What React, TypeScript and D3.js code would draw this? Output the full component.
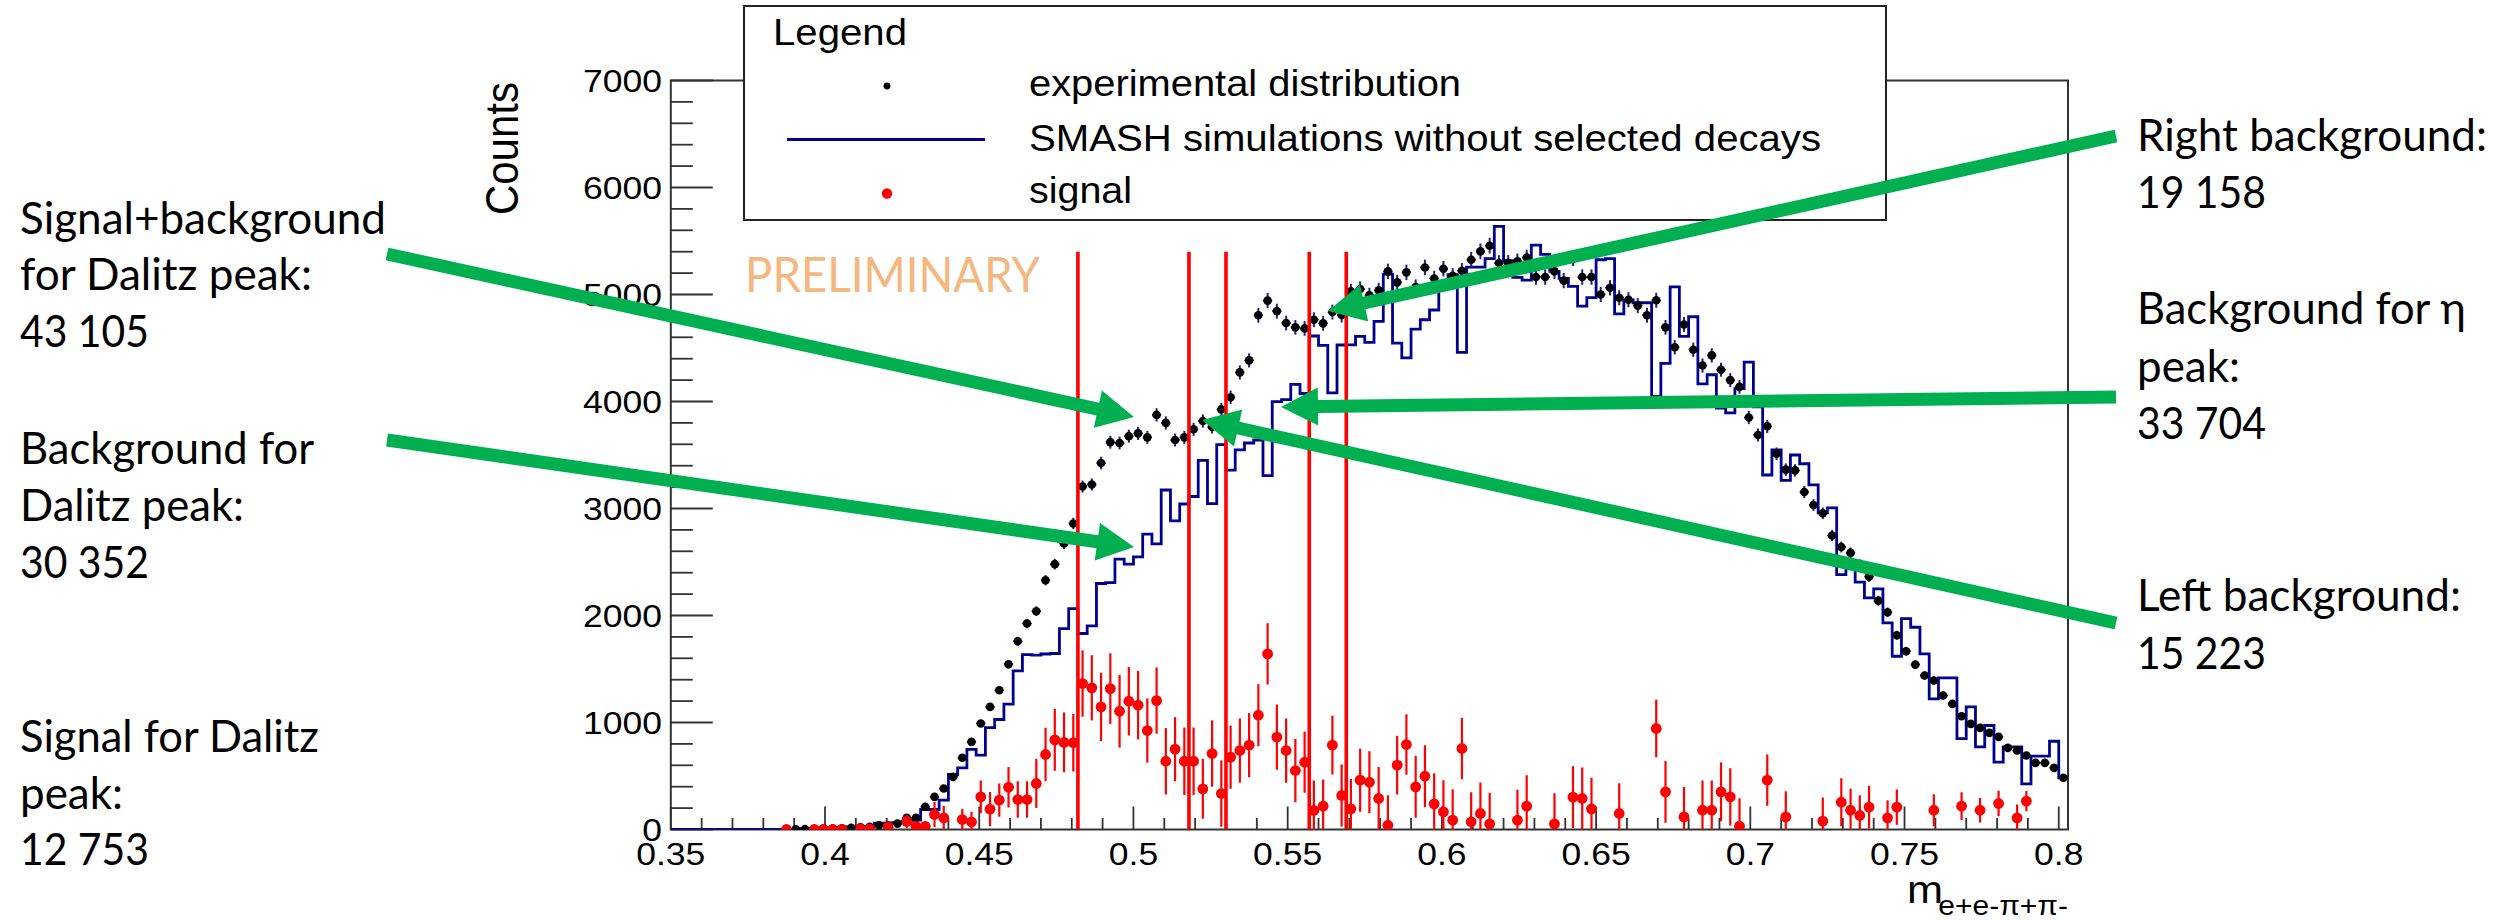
import React, { useEffect } from 'react';
import * as d3 from 'd3';

// histogram binning of the invariant-mass spectra
const BIN_LOW = 0.35;
const BIN_WIDTH = 0.003;

// experimental distribution, one value per bin (0.35 ... 0.803)
const experimentalCounts = [
  0, 0, 0, 0, 0, 0, 0, 0, 0, 0,
  0, 0, 0, 3, 5, 6, 8, 10, 12, 16,
  20, 25, 40, 40, 55, 109, 109, 212, 305, 383,
  492, 670, 819, 991, 1146, 1302, 1545, 1760, 1925, 2040,
  2330, 2480, 2673, 2860, 3205, 3225, 3425, 3620, 3612, 3676,
  3702, 3665, 3875, 3800, 3640, 3665, 3740, 3818, 3762, 3926,
  4039, 4272, 4384, 4806, 4943, 4845, 4733, 4693, 4683, 4764,
  4730, 4836, 4808, 5029, 5051, 4992, 5039, 5216, 5113, 5207,
  5070, 5253, 5150, 5241, 5175, 5222, 5325, 5403, 5456, 5294,
  5297, 5310, 5345, 5163, 5163, 5216, 5130, 5340, 5163, 5163,
  5000, 5063, 4970, 4951, 4896, 4806, 4946, 4693, 4507, 4720,
  4484, 4336, 4431, 4297, 4200, 4137, 3850, 3687, 3768, 3511,
  3363, 3356, 3154, 3033, 2955, 2748, 2640, 2585, 2475, 2363,
  2139, 2030, 1815, 1666, 1541, 1439, 1392, 1252, 1174, 1059,
  987, 950, 903, 866, 763, 738, 691, 623, 623, 576,
  483,
];

// SMASH simulation without selected decays, same binning
const smashCounts = [
  0, 0, 0, 0, 0, 0, 0, 0, 0, 0,
  0, 0, 0, 0, 10, 10, 15, 15, 20, 25,
  25, 30, 60, 60, 65, 78, 87, 187, 187, 274,
  514, 576, 748, 695, 953, 1028, 1171, 1483, 1635, 1630,
  1640, 1645, 1878, 2065, 1832, 1903, 2299, 2308, 2526, 2480,
  2548, 2760, 2670, 3173, 2884, 3042, 3112, 3450, 3046, 3597,
  3358, 3547, 3612, 3640, 3307, 3999, 4017, 4160, 4075, 4612,
  4525, 4080, 4528, 4530, 4609, 4553, 4749, 5191, 4546, 4408,
  4677, 4764, 4855, 5110, 5185, 4459, 5255, 5255, 5335, 5636,
  5317, 5160, 5135, 5462, 5375, 5216, 5150, 5076, 4892, 4970,
  5325, 5336, 4818, 4950, 4923, 4923, 4048, 4356, 5072, 4609,
  4792, 4165, 4250, 3939, 3893, 4120, 4368, 3950, 3313, 3547,
  3262, 3500, 3418, 3220, 2960, 3005, 2382, 2444, 2311, 2164,
  2248, 1931, 1619, 1971, 1890, 1641, 1221, 1417, 1417, 850,
  1146, 772, 972, 629, 772, 772, 427, 685, 685, 825,
  483,
];

// signal points (bin centre, counts, error)
const signalMass = [
  0.3875, 0.3965, 0.3995, 0.4025, 0.4055, 0.4115, 0.4145, 0.4205, 0.4265, 0.4295,
  0.4325, 0.4355, 0.4385, 0.4445, 0.4475, 0.4505, 0.4535, 0.4565, 0.4595, 0.4625,
  0.4655, 0.4685, 0.4715, 0.4745, 0.4775, 0.4805, 0.4835, 0.4865, 0.4895, 0.4925,
  0.4955, 0.4985, 0.5015, 0.5045, 0.5075, 0.5105, 0.5135, 0.5165, 0.5195, 0.5225,
  0.5255, 0.5285, 0.5315, 0.5345, 0.5375, 0.5405, 0.5435, 0.5465, 0.5495, 0.5525,
  0.5555, 0.5585, 0.5615, 0.5645, 0.5675, 0.5705, 0.5735, 0.5765, 0.5795, 0.5825,
  0.5855, 0.5885, 0.5915, 0.5945, 0.5975, 0.6005, 0.6035, 0.6065, 0.6095, 0.6125,
  0.6155, 0.6245, 0.6275, 0.6365, 0.6425, 0.6455, 0.6485, 0.6575, 0.6695, 0.6725,
  0.6785, 0.6845, 0.6875, 0.6905, 0.6935, 0.6965, 0.7055, 0.7115, 0.7235, 0.7295,
  0.7325, 0.7355, 0.7385, 0.7445, 0.7475, 0.7595, 0.7685, 0.7745, 0.7805, 0.7865,
  0.7895,
];
const signalCounts = [
  0, 0, 0, 0, 0, 5, 5, 25, 75, 30,
  30, 140, 109, 93, 70, 305, 190, 274, 395, 280,
  280, 430, 701, 838, 814, 811, 1364, 1324, 1146, 1317,
  1105, 1199, 1162, 925, 1205, 638, 750, 638, 638, 380,
  710, 336, 676, 738, 788, 1068, 1641, 863, 738, 551,
  629, 178, 218, 788, 318, 193, 461, 442, 290, 40,
  601, 794, 399, 498, 240, 165, 87, 757, 72, 150,
  53, 87, 218, 53, 302, 290, 193, 150, 944, 352,
  118, 180, 180, 352, 305, 31, 461, 118, 78, 255,
  180, 131, 209, 109, 209, 180, 218, 180, 243, 109,
  265,
];
const signalErrors = [
  10, 10, 10, 10, 12, 20, 20, 30, 60, 50,
  50, 117, 110, 100, 95, 153, 160, 155, 190, 170,
  170, 230, 250, 290, 280, 270, 310, 305, 320, 330,
  340, 320, 320, 300, 310, 310, 300, 315, 315, 280,
  310, 310, 295, 300, 300, 290, 287, 305, 300, 296,
  285, 280, 250, 275, 290, 280, 295, 290, 295, 280,
  275, 283, 290, 290, 285, 295, 290, 287, 275, 290,
  290, 285, 290, 285, 288, 290, 290, 283, 270, 288,
  280, 277, 277, 275, 268, 260, 240, 240, 220, 225,
  200, 190, 200, 165, 165, 150, 130, 115, 120, 125,
  95,
];

// mass window borders
const cutPositions = [0.482, 0.518, 0.53, 0.557, 0.569];
const CUT_TOP = 5400;

const xTickValues = [0.35, 0.4, 0.45, 0.5, 0.55, 0.6, 0.65, 0.7, 0.75, 0.8];
const xTickLabels = ['0.35', '0.4', '0.45', '0.5', '0.55', '0.6', '0.65', '0.7', '0.75', '0.8'];
const yTickValues = [0, 1000, 2000, 3000, 4000, 5000, 6000, 7000];

const legendLabels = [
  'experimental distribution',
  'SMASH simulations without selected decays',
  'signal',
];

const leftNotes = [
  ['Signal+background', 'for Dalitz peak:', '43 105'],
  ['Background for', 'Dalitz peak:', '30 352'],
  ['Signal for Dalitz', 'peak:', '12 753'],
];
const rightNotes = [
  ['Right background:', '19 158'],
  ['Background for η', 'peak:', '33 704'],
  ['Left background:', '15 223'],
];

// page layout (pixels)
const W = 2516;
const H = 920;
const PLOT = { left: 670.8, right: 2068, top: 80.5, bottom: 829.5 };
const SX = 1.11; // the ROOT picture is slightly stretched sideways
const ROOT_FONT = "'Liberation Sans', Arial, Helvetica, sans-serif";
const SLIDE_FONT = "Lato, Carlito, 'Open Sans', sans-serif";
const GREEN = '#00b050';

const leftLayout = [
  { y: 233.5, widths: [366, 292, 129] },
  { y: 464.3, widths: [294, 224, 129] },
  { y: 751.7, widths: [299, 103, 129] },
];
const rightLayout = [
  { y: 150.5, widths: [350, 129] },
  { y: 324, widths: [329, 103, 129] },
  { y: 611, widths: [324, 129] },
];

const arrows = [
  { from: [387, 254], to: [1134, 417] },
  { from: [387, 440], to: [1134, 547] },
  { from: [2116, 136], to: [1328, 311] },
  { from: [2116, 397], to: [1281, 407] },
  { from: [2116, 623], to: [1202, 420] },
];

function arrowPolygon(from: number[], to: number[], shaft = 13, headLen = 37, headHalf = 19) {
  const dx = to[0] - from[0];
  const dy = to[1] - from[1];
  const len = Math.hypot(dx, dy);
  const ux = dx / len, uy = dy / len;
  const nx = -uy, ny = ux;
  const bx = to[0] - ux * headLen, by = to[1] - uy * headLen;
  const pts = [
    [from[0] + nx * shaft / 2, from[1] + ny * shaft / 2],
    [bx + nx * shaft / 2, by + ny * shaft / 2],
    [bx + nx * headHalf, by + ny * headHalf],
    [to[0], to[1]],
    [bx - nx * headHalf, by - ny * headHalf],
    [bx - nx * shaft / 2, by - ny * shaft / 2],
    [from[0] - nx * shaft / 2, from[1] - ny * shaft / 2],
  ];
  return pts.map(p => p.join(',')).join(' ');
}

export default function App() {
  useEffect(() => {
    document.body.style.margin = '0';
  }, []);

  const x = d3.scaleLinear().domain([0.35, 0.803]).range([PLOT.left, PLOT.right]);
  const y = d3.scaleLinear().domain([0, 7000]).range([PLOT.bottom, PLOT.top]);

  // step outline of the simulation histogram
  const stepPoints: [number, number][] = smashCounts.map((v, i) => [x(BIN_LOW + i * BIN_WIDTH), y(v)]);
  stepPoints.push([x(BIN_LOW + smashCounts.length * BIN_WIDTH), y(smashCounts[smashCounts.length - 1])]);
  const stepPath = d3.line().curve(d3.curveStepAfter)(stepPoints) || '';

  const xMinor = d3.range(35, 81).map(i => i / 100);
  const yMinor = d3.range(0, 7001, 200);
  const halfBin = BIN_WIDTH / 2;

  return (
    <svg
      width={W}
      height={H}
      viewBox={`0 0 ${W} ${H}`}
      style={{ position: 'absolute', left: 0, top: 0, background: '#fff' }}
    >
      <defs>
        <clipPath id="plotClip">
          <rect x={PLOT.left} y={PLOT.top} width={PLOT.right - PLOT.left} height={PLOT.bottom - PLOT.top} />
        </clipPath>
      </defs>
      <rect x={0} y={0} width={W} height={H} fill="#fff" />

      {/* frame */}
      <rect
        x={PLOT.left}
        y={PLOT.top}
        width={PLOT.right - PLOT.left}
        height={PLOT.bottom - PLOT.top}
        fill="none"
        stroke="#333"
        strokeWidth={2}
      />

      {/* x axis ticks */}
      {xMinor.map((v, i) => {
        const major = i % 5 === 0;
        return (
          <line key={'xt' + i} x1={x(v)} x2={x(v)} y1={PLOT.bottom} y2={PLOT.bottom - (major ? 23 : 11.5)}
            stroke="#333" strokeWidth={1.8} />
        );
      })}
      {xTickValues.map((v, i) => (
        <text key={'xl' + i} transform={`translate(${x(v)},865) scale(${SX},1)`} textAnchor="middle"
          fontFamily={ROOT_FONT} fontSize={32} fill="#000">{xTickLabels[i]}</text>
      ))}

      {/* y axis ticks */}
      {yMinor.map((v, i) => {
        const major = v % 1000 === 0;
        return (
          <line key={'yt' + i} x1={PLOT.left} x2={PLOT.left + (major ? 42 : 22)} y1={y(v)} y2={y(v)}
            stroke="#333" strokeWidth={1.8} />
        );
      })}
      {yTickValues.map(v => (
        <text key={'yl' + v} transform={`translate(662,${y(v) + 11}) scale(${SX},1)`} textAnchor="end"
          fontFamily={ROOT_FONT} fontSize={32} fill="#000">{v}</text>
      ))}

      {/* axis titles */}
      <text transform={`translate(518,82) scale(${SX},1) rotate(-90)`} textAnchor="end"
        fontFamily={ROOT_FONT} fontSize={42} fill="#000">Counts</text>
      <text transform={`translate(1943,903) scale(${SX},1)`} textAnchor="end"
        fontFamily={ROOT_FONT} fontSize={39} fill="#000">m</text>
      <text transform={`translate(2068,915) scale(${SX},1)`} textAnchor="end"
        fontFamily={ROOT_FONT} fontSize={27} fill="#000">e+e-π+π-</text>

      <g clipPath="url(#plotClip)">
        {/* simulation histogram */}
        <path d={stepPath} fill="none" stroke="#000090" strokeWidth={2.8} strokeLinejoin="miter" />

        {/* experimental points */}
        {experimentalCounts.map((v, i) => {
          if (v <= 0) return null;
          const cx = x(BIN_LOW + (i + 0.5) * BIN_WIDTH);
          const err = Math.sqrt(v);
          return (
            <g key={'e' + i}>
              <line x1={cx} x2={cx} y1={y(v - err)} y2={y(v + err)} stroke="#1f1f8f" strokeWidth={2} />
              <line x1={x(BIN_LOW + i * BIN_WIDTH)} x2={x(BIN_LOW + (i + 1) * BIN_WIDTH)} y1={y(v)} y2={y(v)}
                stroke="#000" strokeWidth={1.6} />
              <circle cx={cx} cy={y(v)} r={4.3} fill="#000" />
            </g>
          );
        })}

        {/* signal points */}
        {signalMass.map((m, i) => {
          const v = signalCounts[i];
          const e = signalErrors[i];
          return (
            <g key={'s' + i}>
              <line x1={x(m)} x2={x(m)} y1={y(v - e)} y2={y(v + e)} stroke="#ff0000" strokeWidth={2.2} />
              <line x1={x(m - halfBin)} x2={x(m + halfBin)} y1={y(v)} y2={y(v)} stroke="#ff0000" strokeWidth={2} />
              <circle cx={x(m)} cy={y(v)} r={5.4} fill="#ff0000" />
            </g>
          );
        })}

        {/* window borders */}
        {cutPositions.map((c, i) => (
          <line key={'c' + i} x1={x(c)} x2={x(c)} y1={y(0)} y2={y(CUT_TOP)} stroke="#ff0000" strokeWidth={3.6} />
        ))}
      </g>

      {/* legend */}
      <rect x={744} y={6} width={1142} height={214} fill="#fff" stroke="#222" strokeWidth={2} />
      <text x={773} y={45} fontFamily={ROOT_FONT} fontSize={36} textLength={134} lengthAdjust="spacingAndGlyphs">Legend</text>
      <circle cx={887} cy={86} r={3.4} fill="#000" />
      <line x1={787} x2={985} y1={139.5} y2={139.5} stroke="#000090" strokeWidth={3} />
      <circle cx={887} cy={193.5} r={5.2} fill="#ff0000" />
      {legendLabels.map((t, i) => (
        <text key={'lg' + i} x={1029} y={[96, 151, 203][i]} fontFamily={ROOT_FONT} fontSize={36}
          textLength={[432, 792, 103][i]} lengthAdjust="spacingAndGlyphs" fill="#000">{t}</text>
      ))}

      {/* watermark */}
      <text x={745} y={291.5} fontFamily={SLIDE_FONT} fontSize={49} fill="#f4b780"
        textLength={295} lengthAdjust="spacingAndGlyphs">PRELIMINARY</text>

      {/* annotation arrows */}
      {arrows.map((a, i) => (
        <polygon key={'a' + i} points={arrowPolygon(a.from, a.to)} fill={GREEN} />
      ))}

      {/* slide notes */}
      {leftNotes.map((block, b) =>
        block.map((line, j) => (
          <text key={`ln${b}-${j}`} x={20} y={leftLayout[b].y + j * 56.8} fontFamily={SLIDE_FONT} fontSize={44}
            textLength={leftLayout[b].widths[j]} lengthAdjust="spacingAndGlyphs" fill="#000">{line}</text>
        ))
      )}
      {rightNotes.map((block, b) =>
        block.map((line, j) => (
          <text key={`rn${b}-${j}`} x={2137} y={rightLayout[b].y + j * 57.6} fontFamily={SLIDE_FONT} fontSize={44}
            textLength={rightLayout[b].widths[j]} lengthAdjust="spacingAndGlyphs" fill="#000">{line}</text>
        ))
      )}
    </svg>
  );
}
